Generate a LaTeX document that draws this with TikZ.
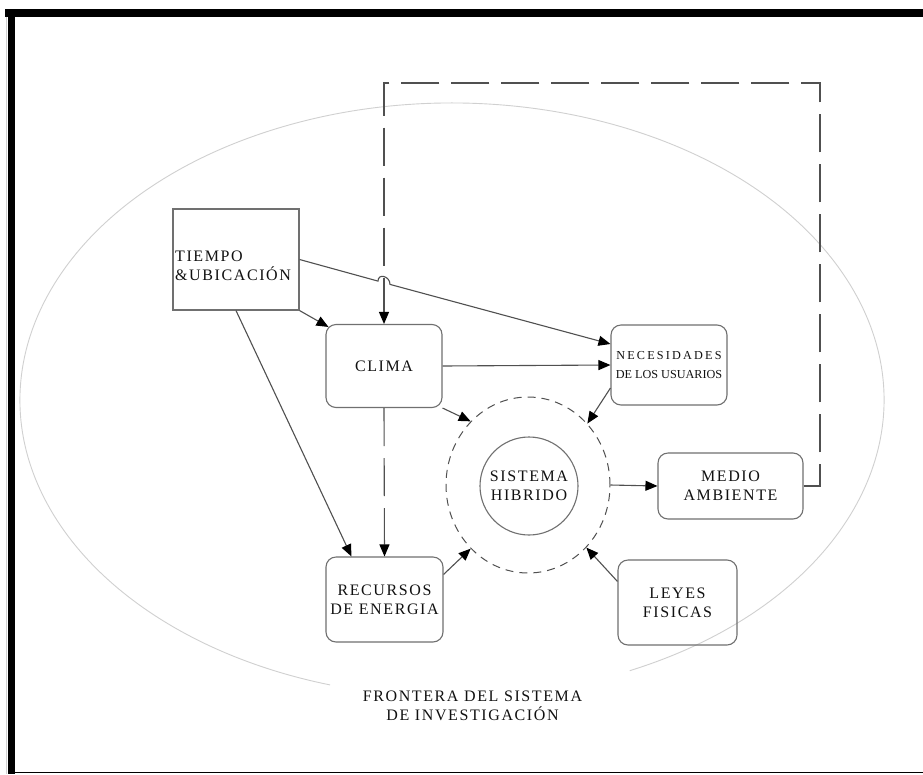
\documentclass[tikz,border=0pt]{standalone}
\usepackage{fontspec}
\newfontfamily\lblfont{Liberation Serif}[LetterSpace=10]
\newfontfamily\lblwide{Liberation Serif}[LetterSpace=18]
\newfontfamily\lbltight{Liberation Serif}[LetterSpace=0]
\usetikzlibrary{arrows.meta,calc,shapes.geometric}
\definecolor{ln}{HTML}{505050}
\definecolor{bx}{HTML}{707070}
\definecolor{bd}{HTML}{D0D0D0}
\definecolor{tx}{HTML}{111111}
\begin{document}
\begin{tikzpicture}[x=1pt,y=-1pt,
  lbl/.style={font=\lblfont\fontsize{16}{19}\selectfont, text=tx, align=center},
  rbox/.style={lbl, draw=bx, line width=1.1pt, rounded corners=10pt, inner sep=0pt},
  sbox/.style={draw=bx, line width=1.1pt, inner sep=0pt},
  conn/.style={draw=ln, line width=1.1pt, -{Triangle[length=12pt,width=10pt,color=black]}},
  longdash/.style={dash pattern=on 38pt off 12pt},
  bound/.style={draw=bd, line width=0.9pt}
]
\useasboundingbox (0,0) rectangle (923,774);
\fill[white] (0,0) rectangle (923,774);
% frame
\fill[black] (5,9) rectangle (923,17);
\fill[black] (8,9) rectangle (15,774);
\draw[black, line width=1.5pt] (15,772.5) -- (923,772.5);
\draw[bd, line width=0.8pt] (6.5,17) -- (6.5,774);

% boundary ellipse with a gap for its label
\coordinate (ec) at (452,400);
\draw[bound] ($(ec)+(294.3:432pt and 297pt)$) arc[start angle=294.3, end angle=613.6, x radius=432pt, y radius=297pt];
\node[lbl] (front) at (472.5,706) {FRONTERA DEL SISTEMA\\DE INVESTIGACIÓN};

% nodes
\node[sbox, minimum width=126pt, minimum height=101pt] (tiempo) at (236,259.5) {};
\node[lbl, align=left, anchor=west, inner sep=0pt] (tiempoT) at (175,266) {TIEMPO\\\&UBICACIÓN};
\node[rbox, minimum width=116pt, minimum height=83pt] (clima) at (384,366) {CLIMA};
\node[rbox, minimum width=116pt, minimum height=80pt, font=\fontsize{12.2}{19}\selectfont] (neces) at (669,365) {{\lblwide NECESIDADES}\\{\lbltight DE LOS USUARIOS}};
\node[rbox, minimum width=145pt, minimum height=66pt] (medio) at (730.5,486) {MEDIO\\AMBIENTE};
\node[rbox, minimum width=117pt, minimum height=85pt] (recursos) at (384.5,599.5) {RECURSOS\\DE ENERGIA};
\node[rbox, minimum width=119pt, minimum height=85pt] (leyes) at (677.5,602.5) {LEYES\\FISICAS};
\node[lbl, draw=bx, line width=1.1pt, circle, minimum size=98pt, inner sep=0pt] (sis) at (529,486) {SISTEMA\\HIBRIDO};
\node[draw=ln, line width=1pt, dash pattern=on 8pt off 6pt, ellipse, minimum width=164pt, minimum height=176pt, inner sep=0pt] (dashE) at (528,485) {};

% helper coordinates
\coordinate (climaIn) at ($(clima.north west)+(3,3)$);
\coordinate (hopA) at (378,281.1);
\coordinate (hopB) at (390,284.4);
\coordinate (necIn1) at ($(neces.west)+(0,-21)$);
\coordinate (necOut) at ($(neces.west)+(0,23)$);
\coordinate (recIn) at ($(recursos.north west)+(26,0)$);
\coordinate (recOut) at ($(recursos.north east)+(0,18)$);
\coordinate (leyOut) at ($(leyes.north west)+(0,22)$);
\coordinate (lp1) at (820,486);
\coordinate (lp2) at (820,83);
\coordinate (lp3) at (384,83);

% connectors
\draw[conn] (tiempo.south east) -- (climaIn);
\draw[conn] (tiempo.east) -- (hopA) .. controls (378,273) and (390,276) .. (hopB) -- (necIn1);
\draw[conn] (tiempo.south) -- (recIn);
\draw[conn] (clima.east) -- (neces.west);
\draw[conn] (clima.south east) -- (dashE.132.6);
\draw[conn, longdash] (clima.south) -- (recursos.north);
\draw[conn] (necOut) -- (dashE.46.4);
\draw[conn] (dashE.east) -- (medio.west);
\draw[conn, longdash] (medio.east) -- (lp1) -- (lp2) -- (lp3) -- (clima.north);
\draw[conn] (recOut) -- (dashE.228.3);
\draw[conn] (leyOut) -- (dashE.313.6);
\end{tikzpicture}
\end{document}
